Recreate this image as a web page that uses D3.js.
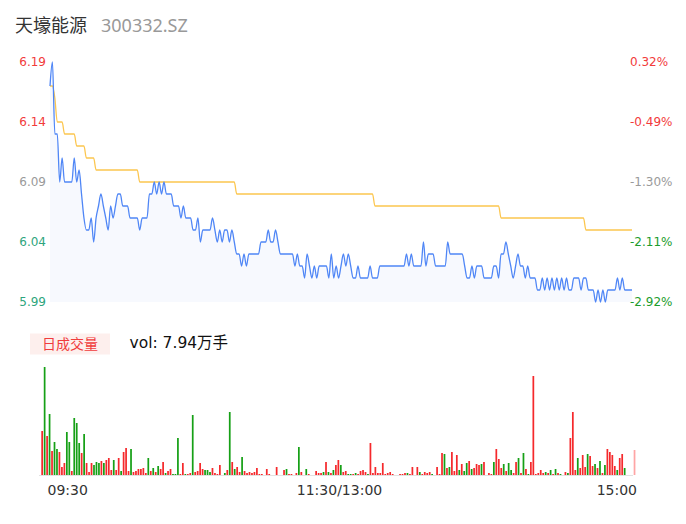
<!DOCTYPE html>
<html>
<head>
<meta charset="utf-8">
<script src="https://cdn.jsdelivr.net/npm/d3@7"></script>
<style>
  html, body { margin: 0; padding: 0; background: #fff; }
  svg { display: block; }
</style>
</head>
<body>
<svg id="chart" width="686" height="524"></svg>
<script>
// Intraday minute chart: price + average price, and minute volume below.
const stockName = "天壕能源";
const stockCode = "300332.SZ";
const priceTicks = [6.19, 6.14, 6.09, 6.04, 5.99];
const pctTicks = ["0.32%", "-0.49%", "-1.30%", "-2.11%", "-2.92%"];
const timeLabels = ["09:30", "11:30/13:00", "15:00"];
const volLegend = "日成交量";
const volText = "vol: 7.94万手";

// minute prices, 09:30 .. 11:30 and 13:01 .. 15:00 (241 points)
const price = [
  6.17,6.19,6.13,6.13,6.09,6.11,6.09,6.09,6.09,6.09,
  6.11,6.09,6.10,6.08,6.06,6.05,6.05,6.06,6.04,6.06,
  6.07,6.08,6.07,6.06,6.05,6.07,6.06,6.07,6.08,6.08,
  6.07,6.07,6.07,6.06,6.06,6.06,6.06,6.05,6.06,6.06,
  6.06,6.08,6.08,6.09,6.08,6.09,6.08,6.09,6.08,6.08,
  6.08,6.07,6.07,6.07,6.06,6.07,6.06,6.06,6.06,6.05,
  6.05,6.06,6.04,6.05,6.05,6.05,6.05,6.06,6.05,6.04,
  6.05,6.04,6.05,6.05,6.04,6.05,6.04,6.03,6.03,6.02,
  6.03,6.02,6.03,6.03,6.03,6.03,6.03,6.04,6.04,6.04,
  6.05,6.04,6.04,6.05,6.04,6.03,6.03,6.03,6.03,6.03,
  6.03,6.02,6.03,6.02,6.02,6.01,6.03,6.02,6.01,6.02,
  6.01,6.02,6.02,6.02,6.02,6.01,6.03,6.01,6.02,6.01,
  6.02,6.03,6.02,6.03,6.02,6.01,6.01,6.02,6.01,6.01,
  6.01,6.01,6.02,6.01,6.01,6.01,6.02,6.02,6.02,6.02,
  6.02,6.02,6.02,6.02,6.02,6.02,6.02,6.03,6.02,6.03,
  6.02,6.02,6.02,6.02,6.04,6.02,6.03,6.03,6.03,6.02,
  6.02,6.02,6.02,6.02,6.04,6.03,6.03,6.03,6.03,6.03,
  6.03,6.02,6.01,6.01,6.02,6.01,6.02,6.02,6.02,6.01,
  6.01,6.01,6.01,6.02,6.02,6.01,6.03,6.03,6.04,6.03,
  6.02,6.01,6.02,6.03,6.02,6.02,6.01,6.02,6.01,6.01,
  6.01,6.00,6.00,6.01,6.00,6.01,6.00,6.01,6.00,6.01,
  6.00,6.01,6.00,6.01,6.00,6.00,6.01,6.01,6.01,6.00,
  6.01,6.01,6.00,6.00,6.00,5.99,6.00,5.99,6.00,5.99,
  6.00,6.00,6.00,6.00,6.01,6.00,6.01,6.00,6.00,6.00,
  6.00
];

// running average price
const avgPrice = [
  6.17,6.17,6.16,6.14,6.14,6.14,6.13,6.13,6.13,6.13,
  6.13,6.12,6.12,6.12,6.12,6.11,6.11,6.11,6.11,6.10,
  6.10,6.10,6.10,6.10,6.10,6.10,6.10,6.10,6.10,6.10,
  6.10,6.10,6.10,6.10,6.10,6.10,6.10,6.09,6.09,6.09,
  6.09,6.09,6.09,6.09,6.09,6.09,6.09,6.09,6.09,6.09,
  6.09,6.09,6.09,6.09,6.09,6.09,6.09,6.09,6.09,6.09,
  6.09,6.09,6.09,6.09,6.09,6.09,6.09,6.09,6.09,6.09,
  6.09,6.09,6.09,6.09,6.09,6.09,6.09,6.08,6.08,6.08,
  6.08,6.08,6.08,6.08,6.08,6.08,6.08,6.08,6.08,6.08,
  6.08,6.08,6.08,6.08,6.08,6.08,6.08,6.08,6.08,6.08,
  6.08,6.08,6.08,6.08,6.08,6.08,6.08,6.08,6.08,6.08,
  6.08,6.08,6.08,6.08,6.08,6.08,6.08,6.08,6.08,6.08,
  6.08,6.08,6.08,6.08,6.08,6.08,6.08,6.08,6.08,6.08,
  6.08,6.08,6.08,6.08,6.07,6.07,6.07,6.07,6.07,6.07,
  6.07,6.07,6.07,6.07,6.07,6.07,6.07,6.07,6.07,6.07,
  6.07,6.07,6.07,6.07,6.07,6.07,6.07,6.07,6.07,6.07,
  6.07,6.07,6.07,6.07,6.07,6.07,6.07,6.07,6.07,6.07,
  6.07,6.07,6.07,6.07,6.07,6.07,6.07,6.07,6.07,6.07,
  6.07,6.07,6.07,6.07,6.07,6.07,6.06,6.06,6.06,6.06,
  6.06,6.06,6.06,6.06,6.06,6.06,6.06,6.06,6.06,6.06,
  6.06,6.06,6.06,6.06,6.06,6.06,6.06,6.06,6.06,6.06,
  6.06,6.06,6.06,6.06,6.06,6.06,6.06,6.06,6.06,6.06,
  6.06,6.05,6.05,6.05,6.05,6.05,6.05,6.05,6.05,6.05,
  6.05,6.05,6.05,6.05,6.05,6.05,6.05,6.05,6.05,6.05,
  6.05
];

// minute volume (lots)
const volume = [
  1056,2592,936,1464,576,792,624,552,192,288,
  1032,792,96,1368,1248,768,528,984,288,72,
  288,240,312,288,336,288,360,408,120,360,
  120,408,96,552,648,96,624,72,96,144,
  144,168,48,408,96,168,72,216,144,312,
  48,96,144,24,24,888,24,288,24,24,
  48,1440,72,96,288,144,120,120,72,168,
  48,24,240,0,48,120,1512,312,144,192,
  72,432,96,48,72,48,72,168,24,24,
  0,144,24,0,0,192,0,0,120,144,
  24,24,0,48,672,72,0,144,24,0,
  0,96,48,48,72,312,72,48,120,240,
  360,240,72,96,24,24,24,48,24,96,
  120,72,24,768,48,192,48,48,288,24,
  48,72,24,0,0,24,24,48,48,24,
  192,0,192,72,24,72,48,72,24,0,
  192,24,528,504,168,192,552,96,480,120,
  264,96,288,336,144,168,264,240,264,312,
  0,48,24,312,624,384,168,264,96,288,
  120,48,312,408,48,528,144,24,312,2376,
  24,48,120,48,72,48,120,24,144,48,
  24,0,72,48,888,1512,120,408,168,480,
  192,504,456,216,264,168,336,48,240,624,
  552,480,216,120,408,504,168,0,0,0,
  600
];

// 1 = up minute, -1 = down minute, 0 = closing auction
const volDir = [
  1,-1,1,-1,1,-1,-1,1,1,1,
  -1,-1,1,-1,-1,-1,1,-1,1,1,
  1,-1,-1,-1,1,-1,1,1,1,-1,
  1,1,-1,1,1,1,-1,1,1,1,
  1,1,1,-1,1,-1,1,-1,1,1,
  -1,1,1,-1,-1,-1,1,1,-1,1,
  1,-1,1,1,1,1,-1,-1,-1,1,
  1,1,1,1,-1,1,-1,1,-1,1,
  1,-1,1,1,1,1,1,1,1,1,
  1,1,1,1,1,1,1,1,1,-1,
  1,1,1,1,-1,1,1,-1,1,1,
  1,1,1,1,-1,1,-1,1,-1,1,
  1,-1,1,1,-1,-1,1,-1,1,1,
  1,1,-1,1,1,1,1,1,1,1,
  1,1,1,1,1,1,1,1,-1,1,
  1,1,1,-1,1,1,1,1,-1,1,
  1,1,1,-1,1,-1,1,1,1,-1,
  1,-1,-1,1,-1,1,1,1,-1,1,
  1,1,1,-1,1,1,1,-1,1,-1,
  -1,1,1,-1,1,-1,1,-1,1,1,
  1,1,1,1,-1,1,-1,1,-1,1,
  -1,1,1,-1,1,1,1,-1,1,1,
  1,-1,1,1,-1,1,-1,1,-1,1,
  1,1,1,-1,1,1,-1,1,1,1,
  0
];

const RED = "#f5292c", GREEN = "#16a016", PALE = "#ffa5a5";
const svg = d3.select("#chart");

// ---- title
const title = svg.append("text").attr("x", 15).attr("y", 32);
title.append("tspan")
  .attr("font-family", "'Noto Sans CJK SC', 'Noto Sans', sans-serif")
  .attr("font-size", 18).attr("fill", "#333").text(stockName);
title.append("tspan").attr("dx", 14)
  .attr("font-family", "'Noto Sans', sans-serif")
  .attr("font-size", 18).attr("fill", "#999").text(stockCode);

// ---- price panel
const x = d3.scaleLinear().domain([0, price.length - 1]).range([50, 632]);
const y = d3.scaleLinear().domain([d3.min(priceTicks), d3.max(priceTicks)]).range([302, 62]);

const area = d3.area()
  .x((d, i) => x(i)).y0(y.range()[0]).y1(d => y(d))
  .curve(d3.curveMonotoneX);
svg.append("path").datum(price).attr("d", area).attr("fill", "#f7f9fe");

const line = d3.line().x((d, i) => x(i)).y(d => y(d)).curve(d3.curveMonotoneX);
svg.append("path").datum(avgPrice).attr("d", line)
  .attr("fill", "none").attr("stroke", "#fcc64f").attr("stroke-width", 1.3);
svg.append("path").datum(price).attr("d", line)
  .attr("fill", "none").attr("stroke", "#4f86f6").attr("stroke-width", 1.3);

const tickColor = (i, n, green) => i < (n - 1) / 2 ? "#f23b3b" : (i === (n - 1) / 2 ? "#9a9a9a" : green);
const axisFont = "'DejaVu Sans', sans-serif";

svg.append("g").selectAll("text").data(priceTicks).join("text")
  .attr("x", 46).attr("y", d => y(d)).attr("dy", "0.35em")
  .attr("text-anchor", "end").attr("font-family", axisFont).attr("font-size", 12)
  .attr("fill", (d, i) => tickColor(i, priceTicks.length, "#2ea57d"))
  .text(d => d.toFixed(2));

svg.append("g").selectAll("text").data(pctTicks).join("text")
  .attr("x", 630).attr("y", (d, i) => y(priceTicks[i])).attr("dy", "0.35em")
  .attr("text-anchor", "start").attr("font-family", axisFont).attr("font-size", 12)
  .attr("fill", (d, i) => tickColor(i, pctTicks.length, "#1c9c2c"))
  .text(d => d);

// ---- volume legend
svg.append("rect").attr("x", 30).attr("y", 333.5).attr("width", 80).attr("height", 21)
  .attr("fill", "#fdefed");
svg.append("text").attr("x", 70).attr("y", 348.5).attr("text-anchor", "middle")
  .attr("font-family", "'Noto Sans CJK SC', sans-serif").attr("font-size", 14)
  .attr("fill", "#f03c3c").text(volLegend);
svg.append("text").attr("x", 129.5).attr("y", 347.5)
  .attr("font-family", "'DejaVu Sans', 'Noto Sans CJK SC', sans-serif").attr("font-size", 15.5)
  .attr("fill", "#111").text(volText);

// ---- volume bars
const xv = d3.scaleBand().domain(d3.range(volume.length)).range([41.3, 635.4]).paddingInner(0.3);
const yv = d3.scaleLinear().domain([0, d3.max(volume)]).range([475, 367]);

svg.append("line").attr("x1", 39).attr("x2", 633).attr("y1", 475.5).attr("y2", 475.5)
  .attr("stroke", "#e2e2e2").attr("stroke-width", 1);

svg.append("g").selectAll("rect").data(volume).join("rect")
  .attr("x", (d, i) => xv(i)).attr("width", xv.bandwidth())
  .attr("y", d => yv(d)).attr("height", d => yv(0) - yv(d))
  .attr("fill", (d, i) => volDir[i] > 0 ? RED : (volDir[i] < 0 ? GREEN : PALE));

// ---- time axis labels
const timeX = [x(0) - 2.5, x((price.length - 1) / 2) - 1.5, x(price.length - 1) + 5];
const timeAnchor = ["start", "middle", "end"];
svg.append("g").selectAll("text").data(timeLabels).join("text")
  .attr("x", (d, i) => timeX[i]).attr("y", 495)
  .attr("text-anchor", (d, i) => timeAnchor[i])
  .attr("font-family", axisFont).attr("font-size", 14).attr("fill", "#333")
  .text(d => d);
</script>
</body>
</html>
